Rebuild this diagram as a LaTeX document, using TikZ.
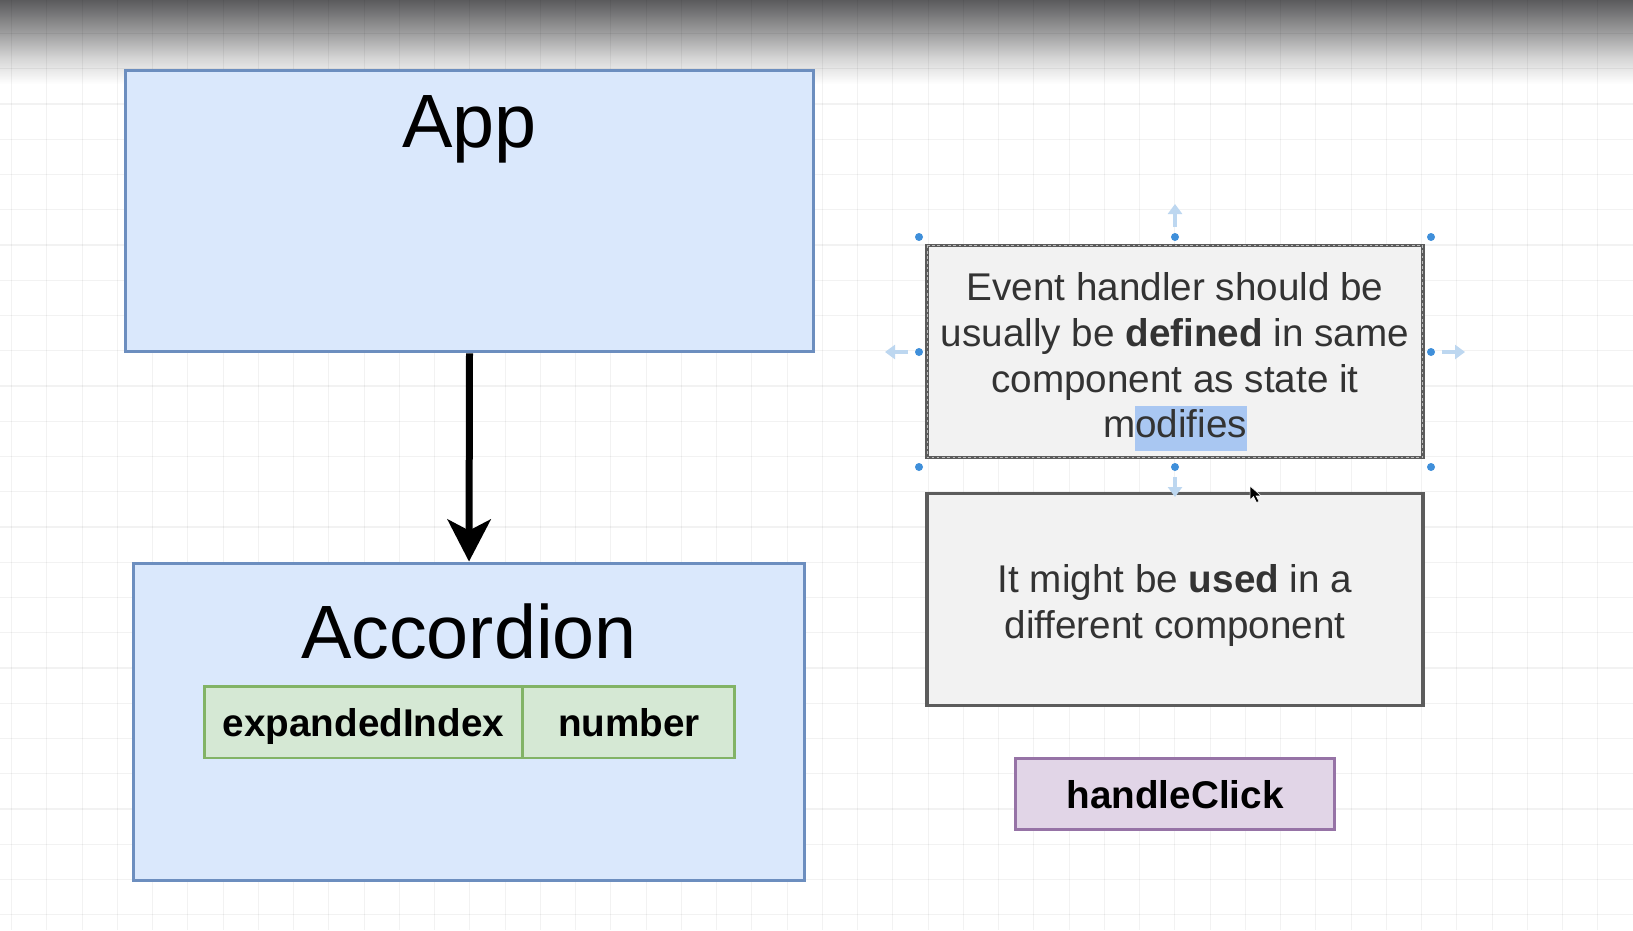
\documentclass[tikz,border=0pt]{standalone}
\usepackage{fontspec}
\setmainfont{Liberation Sans}
\usetikzlibrary{positioning,arrows.meta}

\definecolor{compfill}{HTML}{DAE8FC}
\definecolor{compdraw}{HTML}{6C8EBF}
\definecolor{statefill}{HTML}{D5E8D4}
\definecolor{statedraw}{HTML}{82B366}
\definecolor{notefill}{HTML}{F2F2F2}
\definecolor{notedraw}{HTML}{5C5C5C}
\definecolor{notetext}{HTML}{333333}
\definecolor{fnfill}{HTML}{E1D5E7}
\definecolor{fndraw}{HTML}{9673A6}
\definecolor{handle}{HTML}{3F8FDA}
\definecolor{handlehint}{HTML}{BDD7F0}
\definecolor{marked}{HTML}{A9C7F2}
\definecolor{shadeA}{HTML}{5B5B5D}
\definecolor{shadeB}{HTML}{9E9E9F}
\definecolor{shadeC}{HTML}{D5D5D5}

\newcommand{\markword}[1]{{\setlength{\fboxsep}{0pt}\colorbox{marked}{\strut #1}}}

\begin{document}
\begin{tikzpicture}[x=0.02cm, y=-0.02cm,
        gridline/.style={draw=black, opacity=0.05, line width=0.6pt},
        compbox/.style={draw=compdraw, fill=compfill, line width=1.7pt, inner sep=0pt},
        compname/.style={inner sep=0pt, font=\fontsize{43}{50}\selectfont},
        statebox/.style={draw=statedraw, fill=statefill, line width=1.7pt, inner sep=0pt,
            minimum height=1.44cm, text height=16pt, text depth=0pt,
            font=\bfseries\fontsize{22}{26}\selectfont},
        notebox/.style={draw=notedraw, fill=notefill, line width=1.9pt, outer sep=0pt,
            minimum width=9.92cm, align=center, text=notetext, font=\fontsize{22}{26}\selectfont},
        fnbox/.style={draw=fndraw, fill=fnfill, line width=1.7pt,
            minimum width=6.38cm, minimum height=1.42cm, font=\bfseries\fontsize{22}{26}\selectfont},
        flow/.style={line width=0.14cm, -{Stealth[length=0.84cm, width=0.86cm, inset=0.22cm]}},
        selframe/.style={draw=white, opacity=0.6, line width=0.6pt, dash pattern=on 1.5pt off 1.5pt},
        hint/.style={draw=handlehint, line width=2pt, -{Triangle[length=0.2cm, width=0.28cm]}}]
        \fill[white] (0,0) rectangle (1633,930);
        \useasboundingbox (0,0) rectangle (1633,930);
        \shade[top color=shadeA, bottom color=shadeB] (0,0) rectangle (1633,33);
        \shade[top color=shadeB, bottom color=shadeC] (0,33) rectangle (1633,58);
        \shade[top color=shadeC, bottom color=white] (0,58) rectangle (1633,84);
        \foreach \k in {0,...,46}
            \draw[gridline] ({11.7+35.25*\k},0) -- ({11.7+35.25*\k},930);
        \foreach \k in {1,...,26}
            \draw[gridline] (0,{-1.75+35.25*\k}) -- (1633,{-1.75+35.25*\k});

        \node[compbox, minimum width=13.78cm, minimum height=5.64cm] (app) at (469.5,211) {};
        \node[compname, below=0.54cm of app.north] (appname) {App};
        \node[compbox, minimum width=13.44cm, minimum height=6.36cm] (accordion) at (469,722) {};
        \node[compname, below=0.83cm of accordion.north] (accname) {Accordion};
        \node[statebox, minimum width=6.38cm] (idxname) at (363.5,722) {expandedIndex};
        \node[statebox, minimum width=4.24cm, right=-1.7pt of idxname] (idxtype) {number};
        \draw[flow] (app.south) -- (accordion.north);

        \node[notebox, minimum height=4.22cm] (evtnote) at (1175,351.5)
            {\rule{0pt}{28pt}Event handler should be\\usually be \textbf{defined} in same\\component as state it\\m\markword{odifies}};
        \draw[selframe] (evtnote.north west) rectangle (evtnote.south east);
        \node[notebox, minimum height=4.24cm, below=0.72cm of evtnote] (usenote)
            {\rule{0pt}{23pt}It might be \textbf{used} in a\\different component};
        \node[fnbox, below=1.04cm of usenote] (handleclick) {handleClick};

        \foreach \hx/\hy in {919/237, 1175/237, 1431/237, 919/352, 1431/352, 919/467, 1175/467, 1431/467}
            \fill[handle] (\hx,\hy) circle[radius=0.08cm];
        \draw[hint] (1175,227) -- (1175,204);
        \draw[hint] (908,352) -- (885,352);
        \draw[hint] (1442,352) -- (1465,352);
        \draw[hint] (1175,477) -- (1175,497);
        \fill[black, draw=white, line width=0.3pt] (1250,486) -- ++(0,14) -- ++(3.5,-3.5) -- ++(3,6)
            -- ++(2.5,-1.2) -- ++(-3,-5.5) -- ++(5,0) -- cycle;
\end{tikzpicture}
\end{document}
